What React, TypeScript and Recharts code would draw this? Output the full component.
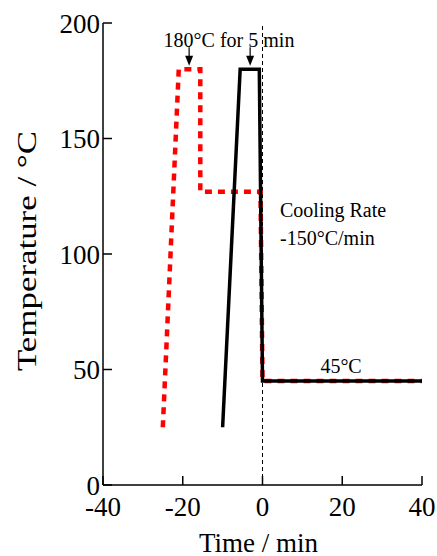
import React from 'react';
import { LineChart, Line, XAxis, YAxis, ReferenceLine, ReferenceDot } from 'recharts';

const FONT = "'Liberation Serif', 'DejaVu Serif', serif";

const xTicks = [-40, -20, 0, 20, 40];
const yTicks = [0, 50, 100, 150, 200];

const redTime = [-25, -21, -15.6, -15.6, -0.5, 0, 40];
const redTemp = [25, 180, 180, 127, 127, 45, 45];
const blackTime = [-10, -5.6, -0.8, 0, 40];
const blackTemp = [25, 180, 180, 45, 45];

const redData = redTime.map((x, i) => ({ x, y: redTemp[i] }));
const blackData = blackTime.map((x, i) => ({ x, y: blackTemp[i] }));

const noteTexts = ['180°C for 5 min', 'Cooling Rate', '-150°C/min', '45°C'];
const noteX = [-8.4, 4.4, 4.4, 19.7];
const noteY = [189.6, 116, 104, 48.5];
const noteAnchor = ['middle', 'start', 'start', 'middle'];

const arrowX = [-18.4, -3.1];
const arrowTop = 189.5;
const arrowTip = 181.5;

const YTitle = (props: any) => {
  const vb = props.viewBox || { x: 0, y: 23, width: 103, height: 462 };
  const cx = 36;
  const cy = vb.y + vb.height / 2 - 3;
  return (
    <text
      transform={`translate(${cx},${cy}) rotate(-90)`}
      x={0}
      y={0}
      textAnchor="middle"
      fontSize={28}
      fontFamily={FONT}
      fill="#000"
      textLength={240}
      lengthAdjust="spacingAndGlyphs"
    >
      Temperature / °C
    </text>
  );
};

const NoteShape = (text: string, anchor: string) => (p: any) => (
  <text x={p.cx} y={p.cy} textAnchor={anchor as any} fontSize={20} fontFamily={FONT} fill="#000">
    {text}
  </text>
);

const ArrowHead = (p: any) => (
  <polygon
    points={`${p.cx},${p.cy} ${p.cx - 4},${p.cy - 10} ${p.cx + 4},${p.cy - 10}`}
    fill="#000"
  />
);

const axisStroke = { stroke: '#000', strokeWidth: 1.5 };
const tickStyle = { fontSize: 27, fill: '#000', fontFamily: FONT };

export default function App() {
  return (
    <div style={{ position: 'absolute', left: 0, top: 0 }}>
      <LineChart
        width={437}
        height={556}
        margin={{ top: 23, right: 15, bottom: 0, left: 0 }}
        style={{ fontFamily: FONT }}
      >
        <XAxis
          xAxisId="b"
          type="number"
          dataKey="x"
          domain={[-40, 40]}
          ticks={xTicks}
          interval={0}
          height={71}
          tickSize={-9}
          tickMargin={21}
          tick={tickStyle}
          axisLine={axisStroke}
          tickLine={axisStroke}
          allowDataOverflow
          label={{ value: 'Time / min', position: 'insideBottom', offset: 4, dx: -4, fontSize: 27, fill: '#000', fontFamily: FONT }}
        />
        <XAxis
          xAxisId="t"
          orientation="top"
          type="number"
          domain={[-40, 40]}
          ticks={xTicks}
          interval={0}
          height={0}
          tickSize={-9}
          tick={false}
          axisLine={axisStroke}
          tickLine={axisStroke}
          allowDataOverflow
        />
        <YAxis
          yAxisId="l"
          type="number"
          domain={[0, 200]}
          ticks={yTicks}
          interval={0}
          width={103}
          tickSize={-9}
          tickMargin={12}
          tick={tickStyle}
          axisLine={axisStroke}
          tickLine={axisStroke}
          allowDataOverflow
          label={<YTitle />}
        />
        <YAxis
          yAxisId="r"
          orientation="right"
          type="number"
          domain={[0, 200]}
          ticks={yTicks}
          interval={0}
          width={0}
          tickSize={-9}
          tick={false}
          axisLine={axisStroke}
          tickLine={axisStroke}
          allowDataOverflow
        />
        <ReferenceLine xAxisId="b" yAxisId="l" x={0} stroke="#000" strokeWidth={1} strokeDasharray="4 3" />
        <Line
          xAxisId="b"
          yAxisId="l"
          data={redData}
          dataKey="y"
          type="linear"
          stroke="#ff0000"
          strokeWidth={4.5}
          strokeDasharray="7 6"
          dot={false}
          activeDot={false}
          isAnimationActive={false}
        />
        <Line
          xAxisId="b"
          yAxisId="l"
          data={blackData}
          dataKey="y"
          type="linear"
          stroke="#000"
          strokeWidth={3.5}
          dot={false}
          activeDot={false}
          isAnimationActive={false}
        />
        {arrowX.map((ax, i) => (
          <ReferenceLine
            key={`as${i}`}
            xAxisId="b"
            yAxisId="l"
            segment={[{ x: ax, y: arrowTop }, { x: ax, y: arrowTip + 3 }]}
            stroke="#000"
            strokeWidth={1.2}
          />
        ))}
        {arrowX.map((ax, i) => (
          <ReferenceDot key={`ah${i}`} xAxisId="b" yAxisId="l" x={ax} y={arrowTip} r={1} shape={ArrowHead} />
        ))}
        {noteTexts.map((t, i) => (
          <ReferenceDot
            key={`n${i}`}
            xAxisId="b"
            yAxisId="l"
            x={noteX[i]}
            y={noteY[i]}
            r={1}
            shape={NoteShape(t, noteAnchor[i])}
          />
        ))}
      </LineChart>
    </div>
  );
}
